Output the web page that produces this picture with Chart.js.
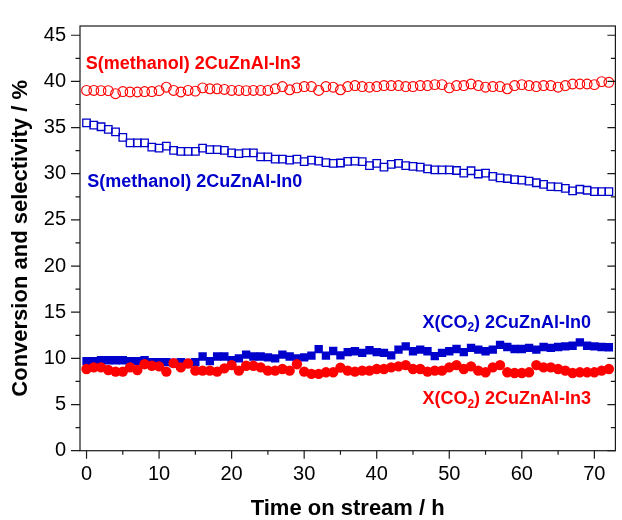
<!DOCTYPE html>
<html><head><meta charset="utf-8">
<script src="https://cdn.jsdelivr.net/npm/chart.js@4.4.0/dist/chart.umd.min.js"></script>
<style>html,body{margin:0;padding:0;background:#fff;}#wrap{width:622px;height:520px;}</style>
</head><body><div id="wrap"><canvas id="c" width="622" height="520"></canvas></div>
<script>
const times = [0,1,2,3,4,5,6,7,8,9,10,11,12,13,14,15,16,17,18,19,20,21,22,23,24,25,26,27,28,29,30,31,32,33,34,35,36,37,38,39,40,41,42,43,44,45,46,47,48,49,50,51,52,53,54,55,56,57,58,59,60,61,62,63,64,65,66,67,68,69,70,71,72];
const sMeOH_In3 = [39.02,39.02,39.0,39.0,38.67,38.9,38.85,38.85,38.9,38.9,39.0,39.37,39.02,38.85,39.02,38.95,39.3,39.2,39.2,39.13,39.02,39.02,39.0,39.02,39.02,39.02,39.2,39.44,39.09,39.3,39.44,39.44,39.02,39.44,39.37,39.09,39.44,39.55,39.44,39.37,39.44,39.55,39.55,39.55,39.44,39.44,39.55,39.55,39.65,39.65,39.3,39.55,39.55,39.72,39.55,39.37,39.44,39.44,39.2,39.55,39.65,39.55,39.44,39.55,39.55,39.37,39.55,39.72,39.72,39.72,39.65,39.97,39.9];
const sMeOH_In0 = [35.51,35.26,35.09,34.81,34.53,33.93,33.34,33.34,33.34,32.88,32.78,32.99,32.53,32.42,32.42,32.42,32.78,32.6,32.6,32.53,32.25,32.18,32.25,32.25,31.83,31.83,31.58,31.58,31.48,31.58,31.3,31.48,31.37,31.2,31.13,31.16,31.34,31.37,31.3,30.88,31.13,30.71,31.02,31.13,30.88,30.8,30.71,30.53,30.42,30.42,30.42,30.35,30.07,30.32,29.97,30.07,29.72,29.55,29.48,29.37,29.3,29.2,29.02,28.85,28.6,28.57,28.42,28.14,28.32,28.21,28.07,28.07,28.07];
const xCO2_In0 = [9.7,9.7,9.8,9.8,9.8,9.8,9.7,9.7,9.8,9.6,9.6,9.6,9.5,9.6,9.5,9.6,10.2,9.7,10.2,10.2,9.8,10.0,10.4,10.2,10.2,10.1,10.0,10.4,10.2,10.0,10.1,10.3,11.0,10.3,10.8,10.32,10.67,10.77,10.6,10.88,10.67,10.6,10.32,10.95,11.3,10.77,10.95,10.77,10.25,10.6,10.77,11.02,10.67,11.13,10.95,10.77,10.95,11.47,11.23,11.02,11.02,11.13,10.95,11.23,11.13,11.23,11.3,11.37,11.73,11.37,11.3,11.23,11.2];
const xCO2_In3 = [8.85,9.02,9.02,8.74,8.57,8.57,9.02,8.74,9.37,9.2,9.13,8.57,9.48,9.02,9.44,8.67,8.67,8.67,8.57,8.92,9.27,8.67,9.2,9.2,9.02,8.67,8.67,8.85,8.67,9.37,8.57,8.32,8.32,8.49,8.49,9.0,8.67,8.57,8.67,8.67,8.85,8.85,9.02,9.13,9.27,8.85,8.85,8.57,8.67,8.67,9.02,9.27,8.85,9.13,8.67,8.49,9.02,9.27,8.49,8.42,8.42,8.49,9.27,9.02,9.02,8.85,8.67,8.42,8.49,8.49,8.49,8.67,8.85];
const yTicks = [0,5,10,15,20,25,30,35,40,45];
const yMinorTicks = [2.5,7.5,12.5,17.5,22.5,27.5,32.5,37.5,42.5];
const xTicks = [0,10,20,30,40,50,60,70];
const xMinorTicks = [5,15,25,35,45,55,65];
const xTitle = 'Time on stream / h';
const yTitle = 'Conversion and selectivity / %';
// series annotations: [before-subscript, subscript, after-subscript], anchor in data units
const seriesNotes = [
  {parts:['S(methanol) 2CuZnAl-In3','',''], t:-0.1, v:41.9, color:'#ff0000'},
  {parts:['S(methanol) 2CuZnAl-In0','',''], t:0.1, v:29.15, color:'#0000cc'},
  {parts:['X(CO','2',') 2CuZnAl-In0'], t:46.3, v:13.86, color:'#0000cc'},
  {parts:['X(CO','2',') 2CuZnAl-In3'], t:46.3, v:5.55, color:'#ff0000'}
];

const FONT = "'Liberation Sans', Arial, sans-serif";
const RED = '#ff0000', BLUE = '#0000cc';
const pts = arr => times.map((t,i)=>({x:t,y:arr[i]}));

const framePlugin = {
  id:'frame',
  afterDraw(chart){
    const {ctx, chartArea:a, scales:{x,y}} = chart;
    ctx.save();
    ctx.strokeStyle = '#1a1a1a'; ctx.lineWidth = 1.2;
    ctx.strokeRect(a.left, a.top, a.right-a.left, a.bottom-a.top);
    ctx.beginPath();
    yTicks.forEach(v=>{const p=y.getPixelForValue(v); ctx.moveTo(a.left-9,p); ctx.lineTo(a.left,p); ctx.moveTo(a.right,p); ctx.lineTo(a.right-8,p);});
    yMinorTicks.forEach(v=>{const p=y.getPixelForValue(v); ctx.moveTo(a.left-4.5,p); ctx.lineTo(a.left,p); ctx.moveTo(a.right,p); ctx.lineTo(a.right-4.5,p);});
    xTicks.forEach(v=>{const p=x.getPixelForValue(v); ctx.moveTo(p,a.bottom); ctx.lineTo(p,a.bottom+8);});
    xMinorTicks.forEach(v=>{const p=x.getPixelForValue(v); ctx.moveTo(p,a.bottom); ctx.lineTo(p,a.bottom+4);});
    ctx.stroke();
    ctx.textBaseline = 'middle'; ctx.textAlign = 'left';
    seriesNotes.forEach(n=>{
      let px = x.getPixelForValue(n.t), py = y.getPixelForValue(n.v);
      ctx.fillStyle = n.color;
      ctx.font = 'bold 18px ' + FONT;
      ctx.fillText(n.parts[0], px, py); px += ctx.measureText(n.parts[0]).width;
      if (n.parts[1]) {
        ctx.font = 'bold 12px ' + FONT;
        ctx.fillText(n.parts[1], px, py+5); px += ctx.measureText(n.parts[1]).width;
        ctx.font = 'bold 18px ' + FONT;
        ctx.fillText(n.parts[2], px, py);
      }
    });
    ctx.restore();
  }
};

new Chart(document.getElementById('c'), {
  type:'scatter',
  data:{datasets:[
    {data:pts(sMeOH_In3), pointStyle:'circle', pointRadius:4.9, borderColor:RED, backgroundColor:'transparent', borderWidth:1.1, showLine:false},
    {data:pts(sMeOH_In0), pointStyle:'rect', pointRadius:5.3, borderColor:BLUE, backgroundColor:'transparent', borderWidth:1.3, showLine:false},
    {data:pts(xCO2_In3), pointStyle:'circle', pointRadius:5.2, borderColor:RED, backgroundColor:RED, borderWidth:0, showLine:false},
    {data:pts(xCO2_In0), pointStyle:'rect', pointRadius:5.9, borderColor:BLUE, backgroundColor:BLUE, borderWidth:0, showLine:false}
  ]},
  options:{
    responsive:false, devicePixelRatio:1, animation:false,
    layout:{padding:{left:0,right:1.3,top:14.3,bottom:0}},
    plugins:{legend:{display:false}, tooltip:{enabled:false}},
    scales:{
      x:{type:'linear', min:-0.9, max:72.9,
        afterBuildTicks:s=>{s.ticks = xTicks.map(v=>({value:v}));},
        afterFit:s=>{s.height = 69.3;},
        ticks:{font:{family:FONT,size:20}, color:'#000', padding:11.5, maxRotation:0, autoSkip:false},
        grid:{display:false, drawTicks:false}, border:{display:false},
        title:{display:true, text:xTitle, color:'#000', font:{family:FONT,size:22,weight:'bold',lineHeight:1}, padding:{top:0,bottom:0}}
      },
      y:{type:'linear', min:0, max:46,
        afterBuildTicks:s=>{s.ticks = yTicks.map(v=>({value:v}));},
        afterFit:s=>{s.width = 80;},
        ticks:{font:{family:FONT,size:20}, color:'#000', padding:14, autoSkip:false},
        grid:{display:false, drawTicks:false}, border:{display:false},
        title:{display:true, text:yTitle, color:'#000', font:{family:FONT,size:22,weight:'bold',lineHeight:1}, padding:{top:10,bottom:0}}
      }
    }
  },
  plugins:[framePlugin]
});
</script></body></html>
